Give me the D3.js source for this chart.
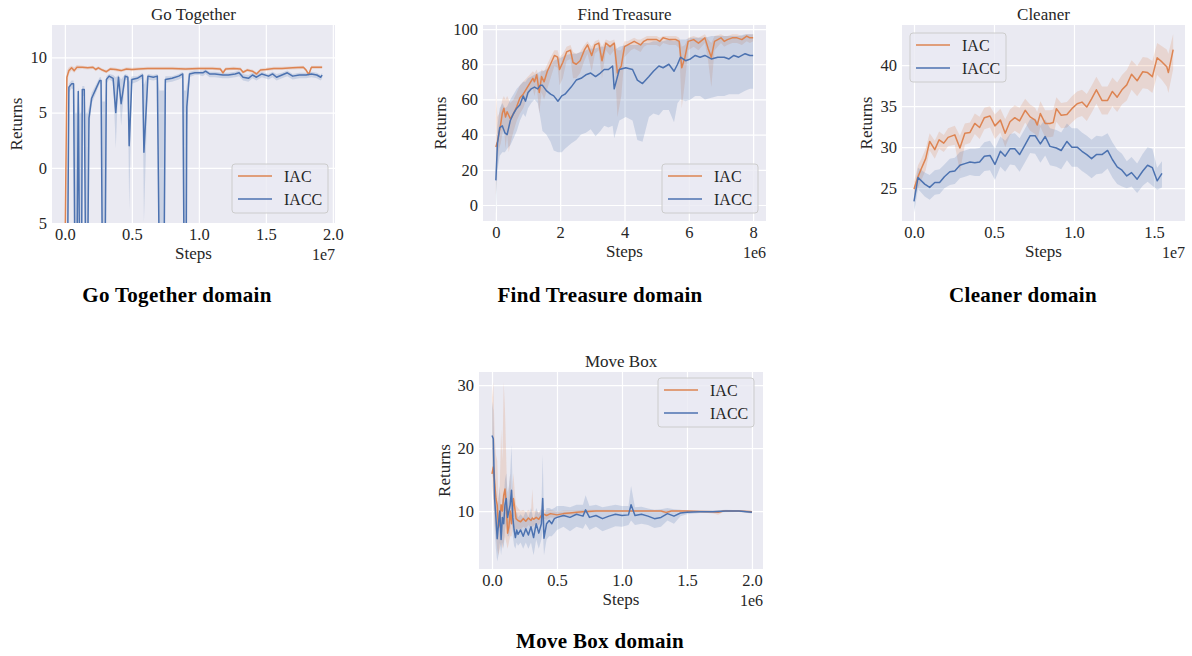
<!DOCTYPE html>
<html>
<head>
<meta charset="utf-8">
<script src="https://cdn.jsdelivr.net/npm/d3@7"></script>
<style>
  body { margin: 0; background: #fff; }
  svg text { font-family: "Liberation Serif", "Times New Roman", serif; }
</style>
</head>
<body>
<svg id="fig" width="1192" height="656"></svg>
<script>
// rows are [steps, mean return, band low, band high]
// Go Together / Cleaner steps in units of 1e7, Find Treasure / Move Box in 1e6

var goIAC = [
  [0.000,-9.0,-10,-8],[0.015,8.2,7.6,8.8],[0.03,8.8,8.5,9.1],[0.05,9.05,8.8,9.25],[0.07,8.8,8.6,9.1],
  [0.09,9.1,8.9,9.3],[0.13,9.1,8.95,9.25],[0.17,9.05,8.9,9.2],[0.21,9.1,8.95,9.25],[0.23,8.9,8.75,9.05],
  [0.25,9.05,8.9,9.2],[0.28,8.85,8.7,9.0],[0.31,8.7,8.55,8.85],[0.34,8.95,8.8,9.1],[0.38,8.9,8.75,9.05],
  [0.42,8.8,8.65,8.95],[0.46,8.95,8.8,9.1],[0.50,8.9,8.75,9.05],[0.55,8.95,8.8,9.1],[0.62,9.0,8.85,9.15],
  [0.70,9.0,8.85,9.15],[0.80,9.0,8.85,9.15],[0.90,8.95,8.8,9.1],[1.00,9.0,8.85,9.15],[1.10,9.0,8.85,9.15],
  [1.16,8.95,8.8,9.1],[1.18,8.6,8.45,8.8],[1.20,8.95,8.8,9.1],[1.26,9.0,8.85,9.15],[1.31,8.95,8.8,9.1],
  [1.33,8.65,8.5,8.8],[1.36,8.85,8.7,9.0],[1.40,8.75,8.6,8.9],[1.43,8.5,8.35,8.65],[1.46,8.85,8.7,9.0],
  [1.50,8.9,8.75,9.05],[1.56,9.0,8.85,9.15],[1.62,9.0,8.85,9.15],[1.70,9.05,8.9,9.2],[1.78,9.1,8.95,9.25],
  [1.80,8.85,8.7,9.0],[1.82,8.45,8.3,8.6],[1.84,9.1,8.95,9.25],[1.92,9.1,8.95,9.25]
];
var goIACC = [
  [0.000,-9,-10,-8],[0.020,-9,-10,-8],[0.030,7.3,6.8,7.6],[0.050,7.6,7.2,7.9],[0.065,7.6,7.1,7.9],
  [0.075,-9,-10,5],[0.090,-9,-10,5],[0.100,6.9,6.0,7.3],[0.110,-9,-10,5],[0.125,-9,-10,5],
  [0.130,7.1,6.5,7.4],[0.145,7.1,6.5,7.4],[0.155,-9,-10,5],[0.170,-9,-10,5],[0.180,4.5,3.5,5.5],
  [0.200,6.3,5.8,6.8],[0.230,7.1,6.7,7.5],[0.260,7.9,7.6,8.2],[0.270,7.9,7.6,8.2],[0.280,-9,-10,6],
  [0.300,-9,-10,6],[0.310,8.0,7.6,8.3],[0.330,8.3,8.0,8.5],[0.360,8.1,7.8,8.4],[0.380,5.0,1.8,8.2],
  [0.400,8.2,7.9,8.4],[0.420,5.8,3.8,8.0],[0.450,8.3,8.0,8.5],[0.470,8.2,7.9,8.4],[0.480,2.0,-3.8,7.8],
  [0.500,8.0,7.6,8.3],[0.540,8.1,7.8,8.3],[0.580,8.4,8.1,8.6],[0.590,1.4,-5,7.5],[0.620,8.3,8.0,8.5],
  [0.660,8.2,7.9,8.4],[0.690,8.3,8.0,8.5],[0.705,-9,-10,7],[0.740,-9,-10,7],[0.750,8.0,7.7,8.3],
  [0.800,8.1,7.8,8.3],[0.850,8.3,8.0,8.5],[0.880,8.5,8.2,8.7],[0.890,-9,-10,7],[0.905,-9,-10,7],
  [0.910,5.5,3,7.5],[0.930,8.5,8.2,8.7],[0.970,8.6,8.4,8.8],[1.000,8.6,8.4,8.8],[1.030,8.6,8.3,8.8],
  [1.050,8.75,8.5,8.9],[1.080,8.5,8.2,8.7],[1.120,8.5,8.2,8.7],[1.180,8.4,8.1,8.6],[1.220,8.4,8.1,8.6],
  [1.270,8.5,8.2,8.7],[1.300,8.6,8.3,8.8],[1.330,8.2,7.9,8.5],[1.370,8.1,7.8,8.4],[1.400,8.4,8.1,8.6],
  [1.430,8.2,7.9,8.5],[1.470,8.5,8.2,8.7],[1.520,8.3,8.0,8.5],[1.550,8.5,8.2,8.7],[1.580,8.2,7.9,8.5],
  [1.620,8.4,8.1,8.6],[1.660,8.6,8.3,8.8],[1.700,8.3,8.0,8.5],[1.750,8.4,8.1,8.6],[1.800,8.4,8.1,8.6],
  [1.840,8.5,8.2,8.7],[1.880,8.4,8.1,8.6],[1.910,8.2,7.9,8.4],[1.920,8.4,8.1,8.6]
];

var ftIAC = [
  [0.00,33,5,64],[0.05,36,25,50],[0.10,41,32,52],[0.15,46,35,55],[0.20,52,40,60],[0.25,55,45,62],
  [0.30,50,32,60],[0.35,53,40,62],[0.40,51,30,60],[0.45,49,35,58],[0.55,52,42,60],[0.65,56,48,64],
  [0.75,61,52,68],[0.85,63,55,70],[0.95,66,60,72],[1.05,69,64,74],[1.15,72,66,76],[1.20,70,62,75],
  [1.27,74,68,77],[1.35,64,52,72],[1.42,73,64,77],[1.50,70,60,76],[1.60,76,66,80],[1.70,80,72,84],
  [1.82,85,79,88],[1.92,84,78,88],[1.98,77,68,84],[2.08,81,72,86],[2.20,87,82,90],[2.32,88,83,91],
  [2.40,81,72,87],[2.50,80,72,86],[2.62,82,75,87],[2.75,88,82,91],[2.85,91,86,93],[2.98,85,76,90],
  [3.08,91,86,93],[3.20,92,88,94],[3.30,82,72,90],[3.42,92,88,94],[3.55,90,85,93],[3.68,92,88,94],
  [3.78,75,50,88],[3.90,79,62,88],[4.00,90,84,93],[4.10,91,86,93],[4.20,92,88,94],[4.30,93,89,95],
  [4.40,92,88,94],[4.50,91,87,94],[4.60,93,90,95],[4.70,94,91,96],[4.80,94,91,96],[5.00,94,91,96],
  [5.10,93,90,95],[5.20,95,92,96],[5.40,94,91,96],[5.60,94,91,96],[5.70,93,89,95],[5.78,78,55,90],
  [5.88,84,70,91],[5.98,93,88,95],[6.15,94,90,96],[6.30,92,88,95],[6.50,95,92,97],[6.60,89,82,94],
  [6.70,84,67,92],[6.80,93,88,96],[7.00,95,92,97],[7.10,93,90,96],[7.20,94,91,96],[7.35,95,92,97],
  [7.50,95,92,97],[7.65,94,91,96],[7.80,96,93,97],[7.90,95,92,97],[8.00,95,93,97]
];
var ftIACC = [
  [0.00,14,-5,30],[0.05,35,20,45],[0.12,44,28,55],[0.20,45,30,58],[0.28,41,30,55],[0.35,40,32,56],
  [0.45,48,34,60],[0.55,52,38,63],[0.65,55,42,66],[0.75,57,48,68],[0.85,62,52,70],[0.92,59,50,70],
  [1.00,64,55,72],[1.10,66,58,73],[1.20,67,60,74],[1.30,66,58,75],[1.38,68,50,76],[1.45,68,42,76],
  [1.57,65,40,77],[1.70,63,36,79],[1.80,62,31,82],[1.93,59,30,83],[2.05,62,30,84],[2.15,63,32,85],
  [2.34,67,35,86],[2.50,71,37,86],[2.65,72,40,87],[2.80,74,41,88],[2.95,75,43,89],[3.10,73,39,89],
  [3.25,75,42,90],[3.37,77,45,90],[3.50,77,44,91],[3.63,79,45,91],[3.68,66,38,88],[3.84,77,48,90],
  [4.04,78,50,91],[4.25,77,48,91],[4.40,71,37,91],[4.56,69,36,92],[4.76,73,50,92],[4.90,76,52,93],
  [5.07,79,51,93],[5.20,78,54,93],[5.38,80,54,94],[5.54,76,47,93],[5.65,80,58,94],[5.74,84,60,94],
  [5.90,82,59,94],[6.05,83,60,95],[6.20,85,62,95],[6.35,84,62,95],[6.50,85,60,95],[6.70,83,61,96],
  [6.90,84,62,96],[7.10,84,62,96],[7.25,83,63,96],[7.40,85,63,96],[7.55,84,63,96],[7.75,86,65,97],
  [7.90,85,66,97],[8.00,85,66,97]
];

var clIAC = [
  [0.000,24.9,24.0,25.8],[0.025,26.4,25.0,27.8],[0.046,27.4,26.0,28.6],[0.073,28.6,27.2,29.8],
  [0.098,30.7,29.6,31.7],[0.130,29.7,28.6,30.8],[0.157,30.9,29.8,31.9],[0.186,30.5,29.4,31.5],
  [0.213,31.2,30.1,32.3],[0.255,31.5,30.3,32.6],[0.287,29.9,27.0,31.4],[0.318,31.7,30.3,32.9],
  [0.350,31.8,30.5,33.0],[0.380,32.9,31.6,34.1],[0.410,32.4,31.0,33.7],[0.440,33.6,32.2,34.8],
  [0.475,33.8,32.4,35.0],[0.506,32.6,31.0,34.0],[0.540,33.3,31.8,34.7],[0.570,31.7,30.0,33.4],
  [0.600,33.1,31.5,34.6],[0.630,33.6,32.0,35.1],[0.660,33.2,31.6,34.8],[0.695,34.5,33.0,35.9],
  [0.726,33.7,32.0,35.2],[0.757,33.3,31.6,34.8],[0.770,32.7,30.8,34.3],[0.790,34.1,32.5,35.6],
  [0.820,32.9,31.2,34.5],[0.850,32.9,31.2,34.5],[0.870,33.0,31.3,34.6],[0.890,34.7,33.1,36.1],
  [0.920,33.9,32.3,35.4],[0.956,34.0,32.4,35.5],[0.987,34.7,33.0,36.2],[1.020,35.3,33.6,36.8],
  [1.050,35.5,33.8,37.0],[1.080,34.9,33.2,36.5],[1.110,35.9,34.2,37.5],[1.140,37.0,35.3,38.6],
  [1.175,35.7,34.0,37.4],[1.210,35.7,34.0,37.4],[1.240,36.8,35.0,38.5],[1.270,36.1,34.3,37.9],
  [1.300,37.0,35.2,38.8],[1.330,37.6,35.7,39.4],[1.360,38.9,37.0,40.6],[1.395,38.1,36.2,39.9],
  [1.430,39.2,37.2,41.0],[1.460,39.1,37.1,40.9],[1.490,38.6,36.6,40.5],[1.520,40.9,38.8,42.7],
  [1.550,40.4,38.2,42.3],[1.580,39.8,37.4,41.9],[1.590,39.1,36.6,41.4],[1.620,41.9,39.5,43.8]
];
var clIACC = [
  [0.000,23.4,22.0,24.6],[0.025,26.3,24.9,27.5],[0.067,25.5,24.0,26.9],[0.098,25.1,23.6,26.6],
  [0.130,25.7,24.2,27.2],[0.160,25.7,24.3,27.3],[0.190,26.4,25.0,27.9],[0.224,27.0,25.4,28.6],
  [0.255,27.1,25.5,28.7],[0.287,27.8,26.2,29.4],[0.318,28.0,26.4,29.6],[0.350,28.2,26.6,29.8],
  [0.380,28.1,26.5,29.8],[0.410,28.2,26.5,29.9],[0.440,28.9,27.1,30.6],[0.475,29.0,27.2,30.8],
  [0.506,27.9,26.0,29.8],[0.540,29.5,27.6,31.3],[0.570,28.9,27.0,30.8],[0.600,29.8,27.9,31.6],
  [0.630,29.8,27.8,31.7],[0.660,29.1,27.0,31.1],[0.695,30.3,28.2,32.3],[0.726,31.4,29.3,33.4],
  [0.757,31.4,29.2,33.5],[0.790,30.4,28.1,32.6],[0.820,31.3,29.0,33.4],[0.850,30.1,27.8,32.3],
  [0.890,29.9,27.6,32.1],[0.920,29.6,27.3,31.8],[0.956,30.7,28.4,32.9],[0.987,30.0,27.6,32.3],
  [1.020,30.0,27.6,32.3],[1.050,29.5,27.1,31.8],[1.080,29.1,26.7,31.4],[1.110,28.6,26.2,30.9],
  [1.140,29.1,26.7,31.4],[1.175,29.1,26.8,31.3],[1.210,29.6,27.4,31.7],[1.240,28.5,26.3,30.6],
  [1.270,27.6,25.5,29.7],[1.300,27.2,25.2,29.2],[1.330,26.5,25.0,28.3],[1.360,26.9,25.2,28.8],
  [1.395,26.1,24.4,28.0],[1.430,27.1,25.3,29.2],[1.460,27.8,25.8,30.0],[1.490,27.5,25.3,29.8],
  [1.520,25.9,24.8,27.5],[1.550,26.8,25.1,28.3]
];

var mbIAC = [
  [0.000,15.9,14,28],[0.010,17.0,12,30.5],[0.020,14.6,8,22],[0.030,12.0,6,19],[0.040,11.0,4,18],
  [0.050,7.4,3,12],[0.060,8.0,4,14],[0.070,11.0,5,23],[0.080,10.0,4,18],[0.090,12.5,5,30.5],
  [0.100,13.5,6,26],[0.110,11.0,5,18],[0.120,6.5,4,10],[0.130,7.5,5,13],[0.140,10.0,6,16],
  [0.150,8.0,6,12],[0.165,12.0,8,16],[0.175,10.5,7,13],[0.185,8.8,7,11],[0.200,8.5,7.2,10.5],
  [0.220,8.3,7,10],[0.240,8.8,7.5,10.2],[0.260,8.4,7.2,9.8],[0.280,8.9,7.8,10.2],[0.300,8.5,7.2,9.8],
  [0.310,8.9,7.5,13.5],[0.320,8.7,7.6,10],[0.340,9.0,8.0,10],[0.360,8.7,7.8,9.8],[0.380,9.3,8.5,10.2],
  [0.400,9.5,8.8,10.3],[0.420,9.3,8.6,10.0],[0.450,9.6,9.0,10.2],[0.500,9.4,8.9,9.9],[0.550,9.6,9.1,10.1],
  [0.600,9.7,9.3,10.1],[0.650,9.8,9.5,10.1],[0.700,9.9,9.6,10.2],[0.800,10.0,9.8,10.2],[0.900,10.0,9.8,10.2],
  [1.000,10.0,9.85,10.15],[1.100,10.0,9.85,10.15],[1.200,10.0,9.85,10.15],[1.300,10.0,9.85,10.15],
  [1.340,9.8,9.5,10.1],[1.380,10.0,9.85,10.15],[1.500,10.0,9.85,10.15],[1.600,9.95,9.8,10.1],
  [1.700,9.9,9.6,10.1],[1.740,9.8,9.4,10.1],[1.780,10.0,9.85,10.15],[1.900,10.0,9.85,10.15],
  [2.000,9.9,9.75,10.05]
];
var mbIACC = [
  [0.000,22.0,16,27.5],[0.010,21.5,15,26],[0.020,12.0,7,17],[0.030,9.0,4,14],[0.040,5.6,2,10],
  [0.050,8.0,3,12],[0.060,10.0,5,14],[0.070,5.5,3,9],[0.080,9.0,5,12],[0.090,8.0,4,12],
  [0.100,11.0,7,15],[0.110,12.0,8,16],[0.120,9.0,6,13],[0.130,10.0,6,14],[0.140,11.0,7,16],
  [0.150,13.3,9,20.5],[0.160,9.0,6,13],[0.170,7.0,4.5,10],[0.180,5.8,4,9],[0.190,7.0,5,10],
  [0.200,6.3,4.5,9],[0.220,7.0,5,9.5],[0.240,6.0,4,9],[0.260,7.2,5,10],[0.280,6.2,4,9],
  [0.300,7.5,5,10.5],[0.320,5.8,3,8.5],[0.340,8.0,5.5,10.5],[0.360,6.5,4,9.5],[0.380,8.0,5.5,10.5],
  [0.390,12.0,7,19],[0.400,5.7,3,9],[0.420,8.0,5.5,10.5],[0.440,8.5,6,10.5],[0.460,8.0,6,10.3],
  [0.480,8.8,6.5,10.5],[0.500,9.0,7,10.8],[0.550,9.3,7.5,10.8],[0.600,9.0,6.8,10.6],[0.650,9.5,7.5,11],
  [0.700,9.2,7.2,11],[0.720,10.2,8,12.5],[0.750,9.0,7,10.8],[0.800,9.3,7.5,11],[0.850,8.8,6.8,10.6],
  [0.900,9.2,7.2,10.8],[0.950,9.5,7.6,11],[1.000,9.3,7.5,10.8],[1.050,9.4,7.8,10.8],[1.070,11.0,8.5,14],
  [1.100,9.3,7.8,10.6],[1.150,9.5,8,10.7],[1.200,9.2,7.8,10.4],[1.250,8.8,7.3,10.2],[1.300,9.0,7.5,10.3],
  [1.350,9.6,8.5,10.5],[1.400,9.2,8,10.3],[1.450,9.7,9.2,10.2],[1.500,9.8,9.5,10.1],[1.600,9.9,9.7,10.1],
  [1.700,9.9,9.7,10.1],[1.800,10.0,9.8,10.2],[1.900,10.0,9.85,10.15],[2.000,9.8,9.6,10.0]
];

var goXTicks = [0, 0.5, 1.0, 1.5, 2.0];
var goYTicks = [-5, 0, 5, 10];
var ftXTicks = [0, 2, 4, 6, 8];
var ftYTicks = [0, 20, 40, 60, 80, 100];
var clXTicks = [0, 0.5, 1.0, 1.5];
var clYTicks = [25, 30, 35, 40];
var mbXTicks = [0, 0.5, 1.0, 1.5, 2.0];
var mbYTicks = [10, 20, 30];

var seriesNames = ["IAC", "IACC"];
var colors = { IAC: "#DD8452", IACC: "#4C72B0" };

var svg = d3.select("#fig");
var textColor = "#262626";

// the source figure lost its minus glyph, so -5 shows as "5"
var noMinus = function(d) { return String(Math.abs(d)); };

var panels = [
  { id: "go", title: "Go Together", caption: "Go Together domain", data: [goIAC, goIACC],
    xDomain: [-0.096, 2.016], yDomain: [-5, 12.93], xTicks: goXTicks, yTicks: goYTicks,
    xFmt: d3.format(".1f"), yFmt: noMinus, offset: "1e7",
    box: [52, 25, 335, 223], ylabX: 22, legend: [232, 164], capX: 177, capY: 302 },
  { id: "ft", title: "Find Treasure", caption: "Find Treasure domain", data: [ftIAC, ftIACC],
    xDomain: [-0.4, 8.4], yDomain: [-9.1, 102.3], xTicks: ftXTicks, yTicks: ftYTicks,
    xFmt: d3.format("d"), yFmt: d3.format("d"), offset: "1e6",
    box: [483, 25, 766, 221], ylabX: 446, legend: [662, 164], capX: 600, capY: 302 },
  { id: "cl", title: "Cleaner", caption: "Cleaner domain", data: [clIAC, clIACC],
    xDomain: [-0.075, 1.694], yDomain: [21, 44.9], xTicks: clXTicks, yTicks: clYTicks,
    xFmt: d3.format(".1f"), yFmt: d3.format("d"), offset: "1e7",
    box: [902, 25, 1185, 221], ylabX: 872, legend: [910, 33], capX: 1023, capY: 302 },
  { id: "mb", title: "Move Box", caption: "Move Box domain", data: [mbIAC, mbIACC],
    xDomain: [-0.1, 2.085], yDomain: [0.8, 32.1], xTicks: mbXTicks, yTicks: mbYTicks,
    xFmt: d3.format(".1f"), yFmt: d3.format("d"), offset: "1e6",
    box: [479, 372, 763, 569], ylabX: 450, legend: [658, 378], capX: 600, capY: 648 }
];

function drawPanel(p) {
  var x0 = p.box[0], y0 = p.box[1], x1 = p.box[2], y1 = p.box[3];
  var x = d3.scaleLinear().domain(p.xDomain).range([x0, x1]);
  var y = d3.scaleLinear().domain(p.yDomain).range([y1, y0]);
  var g = svg.append("g");

  g.append("rect")
    .attr("x", x0).attr("y", y0)
    .attr("width", x1 - x0).attr("height", y1 - y0)
    .attr("fill", "#EAEAF2");

  var xAxis = g.append("g")
    .attr("transform", "translate(0," + y1 + ")")
    .call(d3.axisBottom(x).tickValues(p.xTicks).tickFormat(p.xFmt)
      .tickSize(-(y1 - y0)).tickPadding(5));
  var yAxis = g.append("g")
    .attr("transform", "translate(" + x0 + ",0)")
    .call(d3.axisLeft(y).tickValues(p.yTicks).tickFormat(p.yFmt)
      .tickSize(-(x1 - x0)).tickPadding(5));
  [xAxis, yAxis].forEach(function(a) {
    a.select(".domain").remove();
    a.selectAll(".tick line").attr("stroke", "#fff").attr("stroke-width", 1.2);
    a.selectAll(".tick text").attr("fill", textColor).style("font-size", "16.5px")
      .style("font-family", "'Liberation Serif', serif");
  });

  svg.append("clipPath").attr("id", "clip-" + p.id)
    .append("rect").attr("x", x0).attr("y", y0)
    .attr("width", x1 - x0).attr("height", y1 - y0);
  var plot = g.append("g").attr("clip-path", "url(#clip-" + p.id + ")");

  p.data.forEach(function(rows, i) {
    var c = colors[seriesNames[i]];
    plot.append("path").datum(rows)
      .attr("fill", c).attr("fill-opacity", 0.2)
      .attr("d", d3.area().x(function(d) { return x(d[0]); })
        .y0(function(d) { return y(d[2]); }).y1(function(d) { return y(d[3]); }));
  });
  p.data.forEach(function(rows, i) {
    var c = colors[seriesNames[i]];
    plot.append("path").datum(rows)
      .attr("fill", "none").attr("stroke", c).attr("stroke-width", 1.5)
      .attr("stroke-linejoin", "round")
      .attr("d", d3.line().x(function(d) { return x(d[0]); }).y(function(d) { return y(d[1]); }));
  });

  // titles and axis labels
  g.append("text").attr("x", (x0 + x1) / 2).attr("y", y0 - 5)
    .attr("text-anchor", "middle").attr("fill", textColor).style("font-size", "17px")
    .text(p.title);
  g.append("text").attr("x", (x0 + x1) / 2).attr("y", y1 + 36)
    .attr("text-anchor", "middle").attr("fill", textColor).style("font-size", "17px")
    .text("Steps");
  g.append("text").attr("x", x1).attr("y", y1 + 37)
    .attr("text-anchor", "end").attr("fill", textColor).style("font-size", "16px")
    .text(p.offset);
  g.append("text")
    .attr("transform", "translate(" + p.ylabX + "," + (y0 + y1) / 2 + ") rotate(-90)")
    .attr("text-anchor", "middle").attr("fill", textColor).style("font-size", "17px")
    .text("Returns");

  // legend
  var lg = g.append("g").attr("transform", "translate(" + p.legend[0] + "," + p.legend[1] + ")");
  lg.append("rect").attr("width", 96).attr("height", 49).attr("rx", 3)
    .attr("fill", "#EAEAF2").attr("fill-opacity", 0.8)
    .attr("stroke", "#CCCCCC").attr("stroke-width", 1);
  seriesNames.forEach(function(name, i) {
    var ly = 12 + i * 23;
    lg.append("line").attr("x1", 6).attr("x2", 40).attr("y1", ly).attr("y2", ly)
      .attr("stroke", colors[name]).attr("stroke-width", 1.5);
    lg.append("text").attr("x", 52).attr("y", ly).attr("dy", "0.35em")
      .attr("fill", textColor).style("font-size", "16px").text(name);
  });

  // caption under the panel
  svg.append("text").attr("x", p.capX).attr("y", p.capY)
    .attr("text-anchor", "middle").attr("fill", "#000")
    .style("font-size", "21px").style("font-weight", "bold")
    .style("letter-spacing", "0.3px")
    .text(p.caption);
}

panels.forEach(drawPanel);
</script>
</body>
</html>
